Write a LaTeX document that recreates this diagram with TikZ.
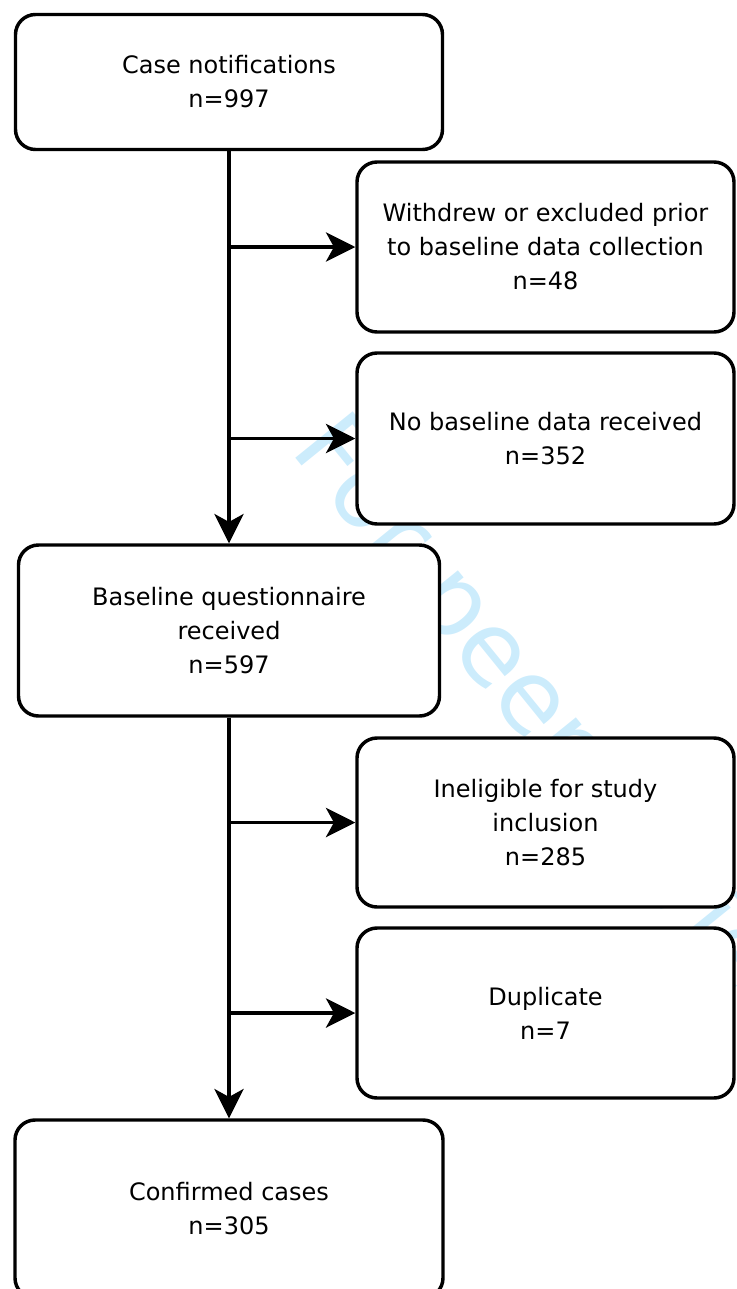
\documentclass[tikz,border=0pt]{standalone}
\usepackage{fontspec}
\setmainfont{DejaVu Sans}
\usetikzlibrary{arrows.meta}
\definecolor{wmark}{RGB}{204,236,252}

\begin{document}
\begin{tikzpicture}[x=0.75pt,y=-0.75pt,
        box/.style={draw, line width=2.6pt, rounded corners=15pt, fill=white, align=center,
            inner sep=0pt, font=\fontsize{18}{25.5}\selectfont},
        flow/.style={line width=2.6pt, -{Stealth[length=22pt,width=22pt,inset=6pt]}}]
        \useasboundingbox (0,0) rectangle (736,1289);
        \clip (0,0) rectangle (736,1289);
        \node[text=wmark, rotate=-51, anchor=base west, inner sep=0pt,
            font=\fontsize{76}{76}\selectfont] (stamp) at (289,450) {For peer review};
        % boxes
        \node[box, minimum width=320.25pt, minimum height=101.25pt] (case) at (229,82) {Case notifications\\n=997};
        \node[box, minimum width=282.75pt, minimum height=127.5pt] (withdrew) at (545.5,247) {Withdrew or excluded prior\\to baseline data collection\\n=48};
        \node[box, minimum width=282.75pt, minimum height=128.25pt] (nodata) at (545.5,438.5) {No baseline data received\\n=352};
        \node[box, minimum width=315.75pt, minimum height=128.25pt] (baseline) at (229,630.5) {Baseline questionnaire\\received\\n=597};
        \node[box, minimum width=282.75pt, minimum height=126.75pt] (inelig) at (545.5,822.5) {Ineligible for study\\inclusion\\n=285};
        \node[box, minimum width=282.75pt, minimum height=127.5pt] (dup) at (545.5,1013) {Duplicate\\n=7};
        \node[box, minimum width=321pt, minimum height=133.5pt] (confirmed) at (229,1209) {Confirmed cases\\n=305};
        % arrows
        \draw[flow] (case) -- (baseline);
        \draw[flow] (case.south |- withdrew) -- (withdrew);
        \draw[flow] (case.south |- nodata) -- (nodata);
        \draw[flow] (baseline) -- (confirmed);
        \draw[flow] (baseline.south |- inelig) -- (inelig);
        \draw[flow] (baseline.south |- dup) -- (dup);

    \end{tikzpicture}
\end{document}
